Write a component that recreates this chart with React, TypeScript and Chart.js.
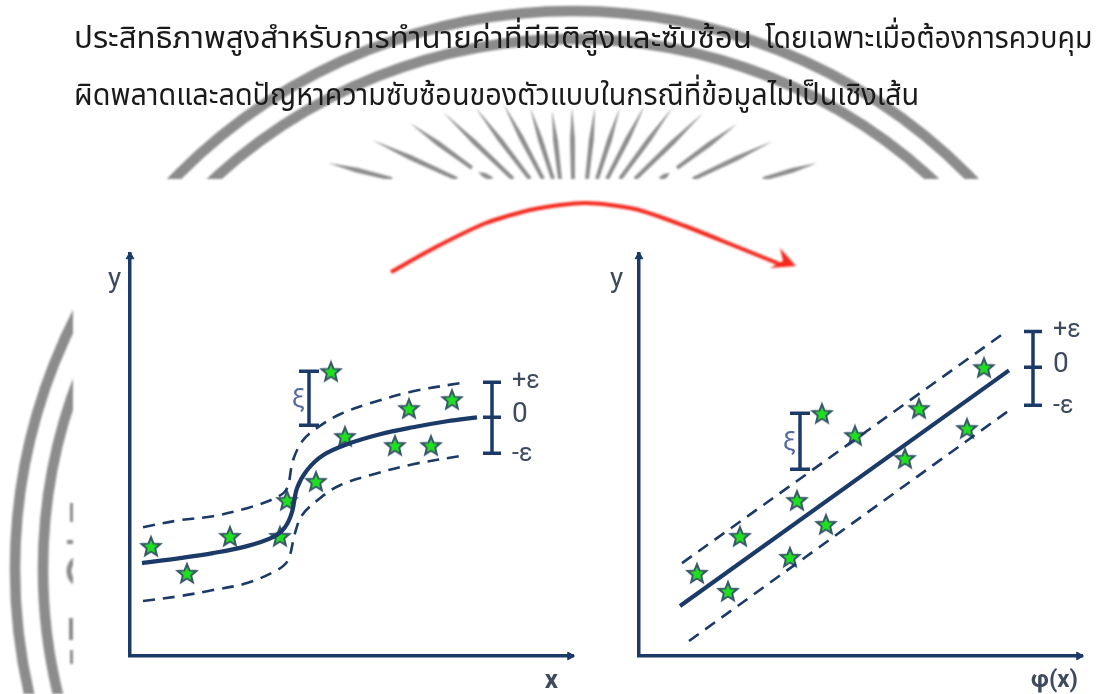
import React, { useEffect, useRef } from "react";
import { Chart, registerables } from "chart.js";

Chart.register(...registerables);

const NAVY = "#1b3a68";
const LABEL = "#3f4a5e";
const GRAY = "#8c8c8c";
const RED = "#f5281e";

const headingParts = [
  "ประสิทธิภาพสูงสำหรับการทำนายค่าที่มีมิติสูงและซับซ้อน",
  "โดยเฉพาะเมื่อต้องการควบคุม",
  "ผิดพลาดและลดปัญหาความซับซ้อนของตัวแบบในกรณีที่ข้อมูลไม่เป็นเชิงเส้น",
];

// Left panel (input space)
const leftCurveX = [12, 50, 83, 117, 143, 155, 162, 167, 177, 193, 217, 250, 283, 317, 347];
const leftCurveY = [93, 98, 103, 110, 119, 129, 144, 168, 186, 201, 212, 222, 229, 235, 239];
const leftUpperX = [13, 50, 83, 117, 147, 157, 163, 173, 188, 210, 240, 283, 335];
const leftUpperY = [129, 136, 140, 148, 159, 168, 196, 216, 229, 242, 253, 265, 274];
const leftLowerX = [13, 50, 83, 117, 147, 158, 165, 172, 190, 210, 240, 283, 335];
const leftLowerY = [55, 60, 66, 73, 86, 96, 123, 141, 158, 171, 181, 192, 201];
const leftStarX = [21, 57, 100, 150, 157, 186, 215, 265, 301, 279, 322, 201];
const leftStarY = [109, 82, 119, 119, 155, 174, 219, 210, 210, 247, 256, 284];
const leftSlackX = [179, 179];
const leftSlackY = [285, 231];
const leftTubeX = [362, 362, 362];
const leftTubeY = [274, 239, 203];

// Right panel (feature space)
const rightLineX = [41, 370];
const rightLineY = [50, 286];
const rightUpperX = [43, 366];
const rightUpperY = [93, 324];
const rightLowerX = [50, 373];
const rightLowerY = [15, 248];
const rightStarX = [58, 89, 101, 151, 158, 187, 183, 216, 266, 280, 328, 345];
const rightStarY = [82, 64, 119, 98, 155, 131, 242, 220, 197, 247, 227, 288];
const rightSlackX = [161, 161];
const rightSlackY = [243, 187];
const rightTubeX = [394, 394, 394];
const rightTubeY = [325, 289, 251];

const tubeLabels = ["+ε", "0", "-ε"];
const slackLabel = "ξ";
const yTitle = "y";
const leftXTitle = "x";
const rightXTitle = "φ(x)";

// Red arrow between the panels
const arrowX = [391, 436, 486, 535, 585, 635, 685, 735, 782];
const arrowY = [272, 247, 223, 209, 203, 209, 226, 246, 265];
const arrowHeadX = [796, 780, 783, 770];
const arrowHeadY = [266, 248, 261, 268];

// Emblem behind the page
const ringRadii = [558, 530];
const rayTipX = [328, 372, 410, 443, 475, 503, 530, 552, 572, 595, 620, 645, 673, 703, 737, 773, 817, 478, 670];
const rayTipY = [163, 140, 123, 112, 107, 103, 107, 110, 107, 107, 107, 105, 107, 113, 124, 141, 163, 172, 173];
const rayEndX = [392, 457, 472, 513, 530, 543, 553, 560, 573, 587, 597, 607, 620, 635, 677, 693, 763, 492, 660];
const rayEndY = [179, 179, 168, 179, 179, 179, 179, 179, 179, 179, 179, 179, 179, 179, 168, 179, 179, 179, 179];

const zip = (xs: number[], ys: number[]) => xs.map((x, i) => ({ x, y: ys[i] }));

function starPath(g: CanvasRenderingContext2D, outer: number, inner: number) {
  g.beginPath();
  for (let i = 0; i < 10; i++) {
    const r = i % 2 === 0 ? outer : inner;
    const a = -Math.PI / 2 + (i * Math.PI) / 5;
    const px = 12 + r * Math.cos(a);
    const py = 13 + r * Math.sin(a);
    if (i === 0) g.moveTo(px, py);
    else g.lineTo(px, py);
  }
  g.closePath();
}

function starImage() {
  const c = document.createElement("canvas");
  c.width = 24;
  c.height = 26;
  const g = c.getContext("2d")!;
  starPath(g, 10.5, 4.6);
  g.fillStyle = "#39586a";
  g.strokeStyle = "#39586a";
  g.lineWidth = 1.6;
  g.stroke();
  g.fill();
  starPath(g, 7, 3.4);
  g.fillStyle = "#1fe01f";
  g.fill();
  return c;
}

const emblemPlugin = {
  id: "emblem",
  beforeDatasetsDraw(chart: any) {
    const { ctx, scales } = chart;
    const X = (v: number) => scales.x.getPixelForValue(v);
    const Y = (v: number) => scales.y.getPixelForValue(v);
    ctx.save();
    ctx.beginPath();
    ctx.rect(X(0), Y(0), X(1111) - X(0), Y(179) - Y(0));
    ctx.rect(X(0), Y(179), X(73) - X(0), Y(694) - Y(179));
    ctx.clip();
    ctx.strokeStyle = GRAY;
    ctx.fillStyle = GRAY;
    ctx.lineWidth = 10.5;
    ringRadii.forEach((r) => {
      ctx.beginPath();
      ctx.arc(X(573), Y(569), r, 0, Math.PI * 2);
      ctx.stroke();
    });
    rayTipX.forEach((tx, i) => {
      const ex = rayEndX[i];
      const ey = rayEndY[i];
      const ty = rayTipY[i];
      const dx = ex - tx;
      const dy = ey - ty;
      const len = Math.hypot(dx, dy);
      const nx = -dy / len;
      const ny = dx / len;
      const mx = tx + dx * 0.45;
      const my = ty + dy * 0.45;
      const w = 2.4;
      ctx.beginPath();
      ctx.moveTo(X(tx), Y(ty));
      ctx.lineTo(X(mx + nx * w), Y(my + ny * w));
      ctx.lineTo(X(ex + nx * w * 0.8), Y(ey + ny * w * 0.8));
      ctx.lineTo(X(ex - nx * w * 0.8), Y(ey - ny * w * 0.8));
      ctx.lineTo(X(mx - nx * w), Y(my - ny * w));
      ctx.closePath();
      ctx.fill();
    });
    // Pieces of the emblem's lettering at the panel's left edge
    ctx.lineWidth = 5;
    ctx.beginPath();
    ctx.arc(X(84), Y(571), 15, 0, Math.PI * 2);
    ctx.stroke();
    ctx.fillRect(X(70), Y(503), 4, 19);
    ctx.fillRect(X(67), Y(540), 7, 4);
    ctx.fillRect(X(69), Y(618), 5, 22);
    ctx.fillRect(X(70), Y(650), 4, 14);
    ctx.restore();
  },
  afterDatasetsDraw(chart: any) {
    const { ctx, scales } = chart;
    ctx.save();
    ctx.fillStyle = RED;
    ctx.beginPath();
    arrowHeadX.forEach((x, i) => {
      const px = scales.x.getPixelForValue(x);
      const py = scales.y.getPixelForValue(arrowHeadY[i]);
      if (i === 0) ctx.moveTo(px, py);
      else ctx.lineTo(px, py);
    });
    ctx.closePath();
    ctx.fill();
    ctx.restore();
  },
};

const panelLabelsPlugin = {
  id: "panelLabels",
  afterDatasetsDraw(chart: any, _args: any, opts: any) {
    const { ctx, scales, chartArea } = chart;
    const X = (v: number) => scales.x.getPixelForValue(v);
    const Y = (v: number) => scales.y.getPixelForValue(v);
    ctx.save();
    ctx.textBaseline = "middle";
    ctx.textAlign = "left";
    ctx.fillStyle = LABEL;
    const fonts = ['25px Roboto', '28px Roboto', '25px Roboto'];
    tubeLabels.forEach((t, i) => {
      ctx.font = fonts[i];
      const dy = i === 0 ? -1 : i === 1 ? -2 : 1;
      ctx.fillText(t, X(opts.tubeX) + 20, Y(opts.tubeY[i]) + dy);
    });
    ctx.font = '28px Roboto';
    ctx.fillText(yTitle, chartArea.left - opts.yTitleGap, chartArea.top + 26);
    ctx.font = '26px Roboto';
    ctx.fillStyle = "#5468a0";
    ctx.fillText(slackLabel, X(opts.slackX) - 17, (Y(opts.slackY[0]) + Y(opts.slackY[1])) / 2 + 2);
    ctx.fillStyle = LABEL;
    ctx.font = opts.xFont;
    ctx.textAlign = "right";
    ctx.fillText(opts.xTitle, chartArea.right - opts.xTitleInset, chartArea.bottom + 25);
    ctx.restore();
  },
};

function panelConfig(p: any) {
  const star = starImage();
  return {
    type: "scatter",
    data: {
      datasets: [
        { data: zip(p.upperX, p.upperY), showLine: true, tension: p.tension, borderColor: NAVY, borderWidth: 2.6, borderDash: [12, 8], pointRadius: 0 },
        { data: zip(p.lowerX, p.lowerY), showLine: true, tension: p.tension, borderColor: NAVY, borderWidth: 2.6, borderDash: [12, 8], pointRadius: 0 },
        { data: zip(p.curveX, p.curveY), showLine: true, tension: p.tension, borderColor: NAVY, borderWidth: 4.2, pointRadius: 0 },
        { data: zip(p.slackX, p.slackY), showLine: true, borderColor: NAVY, borderWidth: 3.5, pointStyle: "line", pointRadius: 10, pointBorderColor: NAVY, pointBorderWidth: 3.5 },
        { data: zip(p.tubeX, p.tubeY), showLine: true, borderColor: NAVY, borderWidth: 3.5, pointStyle: "line", pointRadius: 9, pointBorderColor: NAVY, pointBorderWidth: 3.5 },
        { data: zip(p.starX, p.starY), pointStyle: star, pointRadius: 10 },
        { data: [{ x: 0, y: p.yMax - 3 }], pointStyle: "triangle", pointRadius: 4.5, pointBackgroundColor: NAVY, pointBorderColor: NAVY, clip: false },
        { data: [{ x: p.xMax - 3, y: 0 }], pointStyle: "triangle", rotation: 90, pointRadius: 4.5, pointBackgroundColor: NAVY, pointBorderColor: NAVY, clip: false },
      ],
    },
    options: {
      animation: false,
      responsive: false,
      layout: { padding: p.padding },
      plugins: {
        legend: { display: false },
        tooltip: { enabled: false },
        panelLabels: {
          tubeX: p.tubeX[0], tubeY: p.tubeY, slackX: p.slackX[0], slackY: p.slackY,
          xTitle: p.xTitle, xFont: p.xFont, xTitleInset: p.xTitleInset, yTitleGap: p.yTitleGap,
        },
      },
      scales: {
        x: { type: "linear", min: 0, max: p.xMax, ticks: { display: false }, grid: { display: false, drawTicks: false }, border: { display: true, color: NAVY, width: 3.5 } },
        y: { type: "linear", min: 0, max: p.yMax, ticks: { display: false }, grid: { display: false, drawTicks: false }, border: { display: true, color: NAVY, width: 3.5 } },
      },
    },
    plugins: [panelLabelsPlugin],
  };
}

function ChartCanvas({ config, style, width, height }: any) {
  const ref = useRef<HTMLCanvasElement>(null);
  useEffect(() => {
    const chart = new Chart(ref.current!, config());
    return () => chart.destroy();
  }, []);
  return <canvas ref={ref} width={width} height={height} style={{ position: "absolute", ...style }} />;
}

const backdropConfig = () => ({
  type: "scatter",
  data: {
    datasets: [
      { data: zip(arrowX, arrowY), showLine: true, tension: 0.25, borderColor: RED, borderWidth: 4, pointRadius: 0 },
    ],
  },
  options: {
    animation: false,
    responsive: false,
    plugins: { legend: { display: false }, tooltip: { enabled: false } },
    scales: {
      x: { type: "linear", min: 0, max: 1111, display: false },
      y: { type: "linear", min: 0, max: 694, reverse: true, display: false },
    },
  },
  plugins: [emblemPlugin],
});

const leftConfig = () =>
  panelConfig({
    curveX: leftCurveX, curveY: leftCurveY, upperX: leftUpperX, upperY: leftUpperY, lowerX: leftLowerX, lowerY: leftLowerY,
    starX: leftStarX, starY: leftStarY, slackX: leftSlackX, slackY: leftSlackY, tubeX: leftTubeX, tubeY: leftTubeY,
    xTitle: leftXTitle, xFont: "bold 26px Roboto", xTitleInset: 15, yTitleGap: 22, tension: 0.35, xMax: 443, yMax: 403,
    padding: { left: 30, top: 13, right: 17, bottom: 38 },
  });

const rightConfig = () =>
  panelConfig({
    curveX: rightLineX, curveY: rightLineY, upperX: rightUpperX, upperY: rightUpperY, lowerX: rightLowerX, lowerY: rightLowerY,
    starX: rightStarX, starY: rightStarY, slackX: rightSlackX, slackY: rightSlackY, tubeX: rightTubeX, tubeY: rightTubeY,
    xTitle: rightXTitle, xFont: "bold 24px Roboto", xTitleInset: 4, yTitleGap: 29, tension: 0, xMax: 443, yMax: 403,
    padding: { left: 29, top: 13, right: 19, bottom: 38 },
  });

const headingPlacement = [
  { left: 74, top: 14, stretch: 1.03 },
  { left: 765, top: 14, stretch: 0.94 },
  { left: 74, top: 71, stretch: 0.95 },
];

export default function App() {
  return (
    <div style={{ position: "absolute", left: 0, top: 0, width: 1111, height: 694, overflow: "hidden", background: "#fff" }}>
      <ChartCanvas config={backdropConfig} width={1111} height={694} style={{ left: 0, top: 0, filter: "blur(0.8px)" }} />
      <ChartCanvas config={leftConfig} width={490} height={454} style={{ left: 100, top: 240, filter: "blur(0.6px)" }} />
      <ChartCanvas config={rightConfig} width={491} height={454} style={{ left: 610, top: 240, filter: "blur(0.6px)" }} />
      {headingParts.map((part, i) => (
        <div
          key={i}
          style={{
            position: "absolute",
            left: headingPlacement[i].left,
            top: headingPlacement[i].top,
            transform: `scaleX(${headingPlacement[i].stretch})`,
            transformOrigin: "left center",
            whiteSpace: "nowrap",
            fontFamily: '"Noto Sans Thai", "Noto Sans", "Liberation Sans", sans-serif',
            fontSize: 30.3,
            lineHeight: "50px",
            color: "#1a1a1a",
          }}
        >
          {part}
        </div>
      ))}
    </div>
  );
}
